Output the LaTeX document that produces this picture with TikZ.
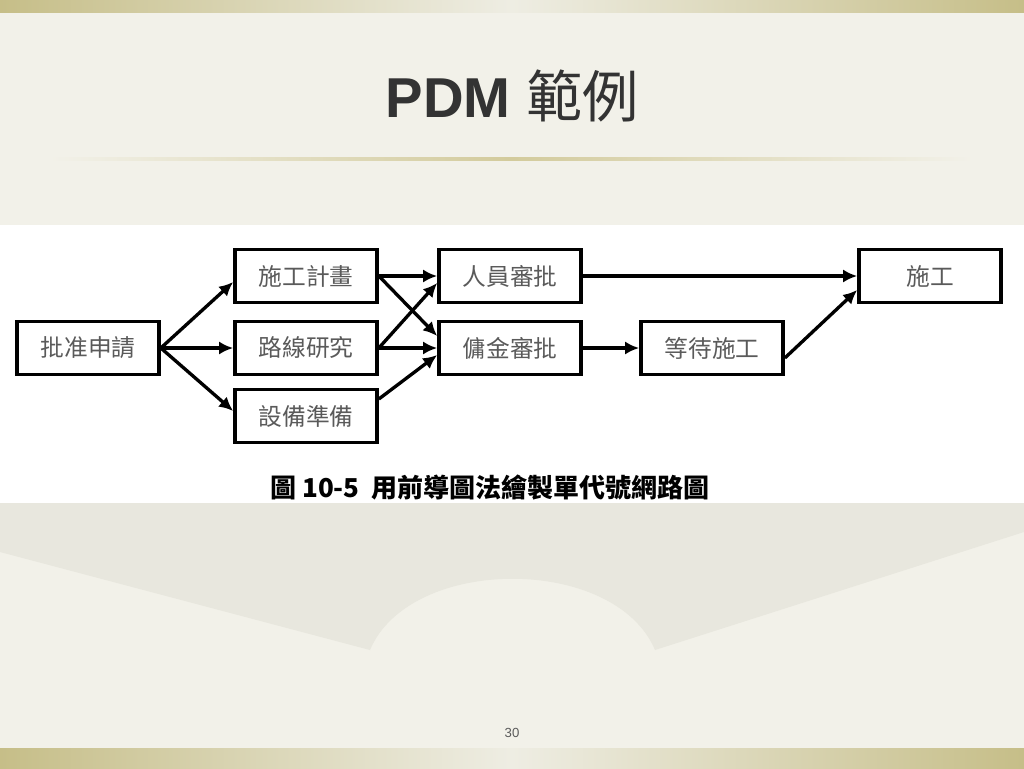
\documentclass[tikz,border=0pt]{standalone}
\usepackage{fontspec}
\setmainfont{Liberation Sans}
\newfontfamily\cjk{Noto Sans CJK TC}
\usetikzlibrary{arrows.meta}
\definecolor{slidebg}{HTML}{F2F1E9}
\definecolor{bandgold}{HTML}{C6BE88}
\definecolor{bandlight}{HTML}{EEEDE3}
\definecolor{rulegold}{HTML}{D3CB9C}
\definecolor{fangray}{HTML}{E8E7DE}
\definecolor{boxtext}{HTML}{5A5A5A}
\definecolor{titletext}{HTML}{333333}
\tikzset{
  task/.style={draw, line width=2.1pt, minimum width=2.84cm, minimum height=1.06cm,
    inner sep=0pt, text=boxtext, font=\cjk\fontsize{13.5pt}{15pt}\selectfont},
  link/.style={line width=1.9pt, -{Latex[length=8pt,width=7.5pt]}}
}

\begin{document}
\begin{tikzpicture}[x=0.02cm, y=-0.02cm]
	\useasboundingbox (0,0) rectangle (1024,768);
	% background of the slide
	\fill[slidebg] (0,0) rectangle (1024,768);
	\fill[fangray] (0,503) -- (1024,503) -- (1024,532) -- (655,650)
		.. controls (615,555) and (410,555) .. (370,650) -- (0,552) -- cycle;
	\shade[left color=bandgold, right color=bandgold, middle color=bandlight] (0,0) rectangle (1024,12);
	\shade[left color=bandgold, right color=bandgold, middle color=bandlight] (0,748) rectangle (1024,768);
	\shade[left color=slidebg, right color=slidebg, middle color=rulegold] (50,157) rectangle (972,160);
	\node[text=titletext, anchor=base] (title) at (512,117)
		{\fontsize{32pt}{36pt}\selectfont\textbf{PDM} {\cjk 範例}};
	\node[text=boxtext, font=\fontsize{7.5pt}{9pt}\selectfont] (page) at (512,733) {30};
	% the figure
	\fill[white] (0,225) rectangle (1024,503);
	\node[task] (apply) at (88,348) {批准申請};
	\node[task] (plan) at (306,276) {施工計畫};
	\node[task] (route) at (306,348) {路線研究};
	\node[task] (equip) at (306,416) {設備準備};
	\node[task] (staff) at (510,276) {人員審批};
	\node[task] (fee) at (510,348) {傭金審批};
	\node[task] (wait) at (712,348) {等待施工};
	\node[task] (build) at (930,276) {施工};
	\coordinate (applyE) at (apply.east);
	\draw[link] (applyE) -- ([yshift=-0.12cm]plan.west);
	\draw[link] (applyE) -- (route.west);
	\draw[link] (applyE) -- ([yshift=0.1cm]equip.west);
	\draw[link] (plan.east) -- (staff.west);
	\draw[link] (plan.east) -- ([yshift=0.24cm]fee.west);
	\draw[link] (route.east) -- ([yshift=-0.14cm]staff.west);
	\draw[link] (route.east) -- (fee.west);
	\draw[link] ([yshift=0.34cm]equip.east) -- ([yshift=-0.14cm]fee.west);
	\draw[link] (fee.east) -- (wait.west);
	\draw[link] (staff.east) -- (build.west);
	\draw[link] ([yshift=-0.2cm]wait.east) -- ([yshift=-0.28cm]build.west);
	\node[font=\cjk\bfseries\fontsize{14.8pt}{16pt}\selectfont] (caption) at (490,488)
		{圖 10-5 \ 用前導圖法繪製單代號網路圖};
\end{tikzpicture}
\end{document}
